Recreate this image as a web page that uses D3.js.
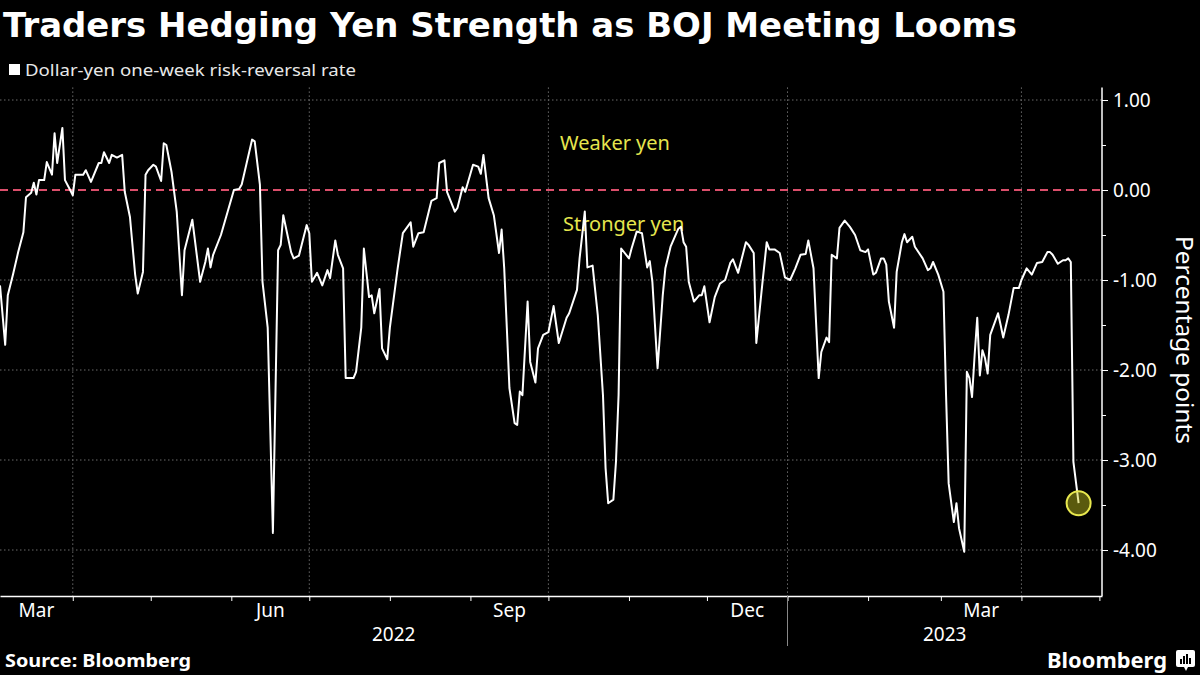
<!DOCTYPE html>
<html><head><meta charset="utf-8">
<script src="https://cdn.jsdelivr.net/npm/d3@7"></script>
<style>html,body{margin:0;padding:0;background:#000;} svg{display:block}</style>
</head><body><svg id="c" width="1200" height="675"></svg>
<script>
const title = "Traders Hedging Yen Strength as BOJ Meeting Looms";
const seriesName = "Dollar-yen one-week risk-reversal rate";
const yAxisTitle = "Percentage points";
const sourceText = "Source: Bloomberg";
const annotations = ["Weaker yen", "Stronger yen"];
const yTickValues = [1, 0, -1, -2, -3, -4];
const yMinorTicks = [0.5, -0.5, -1.5, -2.5, -3.5];
const monthLabelStarts = ["2022-03-01", "2022-06-01", "2022-09-01", "2022-12-01", "2023-03-01"];
const yearLabels = ["2022", "2023"];

const dates = [
"2022-03-04","2022-03-06","2022-03-07","2022-03-09","2022-03-11","2022-03-13","2022-03-14","2022-03-16","2022-03-17","2022-03-18",
"2022-03-19","2022-03-21","2022-03-22","2022-03-24","2022-03-25","2022-03-26","2022-03-28","2022-03-29","2022-03-31","2022-04-01",
"2022-04-02","2022-04-05","2022-04-06","2022-04-08","2022-04-11","2022-04-12","2022-04-13","2022-04-15","2022-04-16","2022-04-18",
"2022-04-20","2022-04-21","2022-04-23","2022-04-25","2022-04-26","2022-04-28","2022-04-29","2022-04-30","2022-05-02","2022-05-03",
"2022-05-05","2022-05-06","2022-05-07","2022-05-09","2022-05-11","2022-05-13","2022-05-14","2022-05-17","2022-05-20","2022-05-22",
"2022-05-23","2022-05-24","2022-05-25","2022-05-28","2022-05-30","2022-06-02","2022-06-04","2022-06-05","2022-06-09","2022-06-10",
"2022-06-12","2022-06-13","2022-06-15","2022-06-17","2022-06-19","2022-06-20","2022-06-21","2022-06-24","2022-06-25","2022-06-27",
"2022-06-30","2022-07-01","2022-07-02","2022-07-04","2022-07-06","2022-07-08","2022-07-09","2022-07-11","2022-07-12","2022-07-14",
"2022-07-15","2022-07-18","2022-07-19","2022-07-21","2022-07-22","2022-07-24","2022-07-25","2022-07-26","2022-07-28","2022-07-29",
"2022-07-31","2022-08-01","2022-08-04","2022-08-06","2022-08-09","2022-08-10","2022-08-12","2022-08-14","2022-08-17","2022-08-19",
"2022-08-20","2022-08-22","2022-08-23","2022-08-26","2022-08-27","2022-08-29","2022-08-30","2022-09-02","2022-09-04","2022-09-05",
"2022-09-06","2022-09-08","2022-09-10","2022-09-12","2022-09-13","2022-09-14","2022-09-15","2022-09-16","2022-09-18","2022-09-19",
"2022-09-20","2022-09-21","2022-09-23","2022-09-24","2022-09-26","2022-09-27","2022-09-29","2022-10-01","2022-10-03","2022-10-05",
"2022-10-08","2022-10-09","2022-10-12","2022-10-13","2022-10-15","2022-10-16","2022-10-18","2022-10-20","2022-10-22","2022-10-23",
"2022-10-24","2022-10-26","2022-10-27","2022-10-28","2022-10-29","2022-11-01","2022-11-02","2022-11-04","2022-11-06","2022-11-08",
"2022-11-09","2022-11-10","2022-11-12","2022-11-14","2022-11-15","2022-11-17","2022-11-20","2022-11-21","2022-11-22","2022-11-23",
"2022-11-24","2022-11-26","2022-11-28","2022-11-29","2022-11-30","2022-12-02","2022-12-04","2022-12-06","2022-12-08","2022-12-10",
"2022-12-11","2022-12-13","2022-12-16","2022-12-17","2022-12-19","2022-12-20","2022-12-22","2022-12-24","2022-12-25","2022-12-27",
"2022-12-29","2022-12-31","2023-01-02","2023-01-04","2023-01-06","2023-01-08","2023-01-09","2023-01-11","2023-01-13","2023-01-14",
"2023-01-16","2023-01-17","2023-01-18","2023-01-20","2023-01-21","2023-01-23","2023-01-25","2023-01-27","2023-01-29","2023-01-31",
"2023-02-01","2023-02-03","2023-02-04","2023-02-06","2023-02-07","2023-02-08","2023-02-09","2023-02-11","2023-02-12","2023-02-14",
"2023-02-15","2023-02-16","2023-02-18","2023-02-19","2023-02-22","2023-02-24","2023-02-25","2023-02-26","2023-02-28","2023-03-02",
"2023-03-03","2023-03-04","2023-03-06","2023-03-07","2023-03-08","2023-03-10","2023-03-11","2023-03-12","2023-03-13","2023-03-14",
"2023-03-15","2023-03-16","2023-03-17","2023-03-18","2023-03-19","2023-03-20","2023-03-23","2023-03-24","2023-03-25","2023-03-27",
"2023-03-29","2023-03-31","2023-04-01","2023-04-03","2023-04-05","2023-04-07","2023-04-09","2023-04-11","2023-04-12","2023-04-13",
"2023-04-15","2023-04-17","2023-04-18","2023-04-19","2023-04-20","2023-04-21","2023-04-23"
];
const values = [
-1.06,-1.72,-1.17,-0.94,-0.69,-0.47,-0.08,-0.03,0.08,-0.05,
0.11,0.11,0.31,0.17,0.63,0.30,0.69,0.11,0.00,-0.06,
0.17,0.17,0.22,0.09,0.30,0.30,0.42,0.30,0.39,0.36,
0.39,-0.02,-0.30,-0.94,-1.15,-0.91,0.17,0.22,0.28,0.26,
0.10,0.52,0.50,0.20,-0.24,-1.17,-0.67,-0.33,-1.02,-0.80,
-0.65,-0.86,-0.72,-0.50,-0.30,0.00,0.01,0.06,0.56,0.54,
0.06,-1.02,-1.53,-3.81,-0.67,-0.61,-0.28,-0.69,-0.76,-0.73,
-0.39,-0.48,-1.02,-0.92,-1.06,-0.89,-0.98,-0.56,-0.72,-0.87,
-2.09,-2.09,-2.02,-1.53,-0.65,-1.19,-1.17,-1.37,-1.10,-1.76,
-1.88,-1.53,-0.87,-0.48,-0.36,-0.63,-0.48,-0.47,-0.12,-0.09,
0.30,0.33,-0.02,-0.24,-0.20,0.03,-0.02,0.28,0.26,0.18,
0.39,-0.09,-0.28,-0.70,-0.44,-0.87,-1.53,-2.20,-2.59,-2.61,
-2.24,-2.28,-1.24,-1.91,-2.14,-1.76,-1.61,-1.58,-1.29,-1.70,
-1.42,-1.37,-1.11,-0.76,-0.24,-0.86,-0.84,-1.39,-2.28,-3.09,
-3.48,-3.44,-3.02,-2.28,-0.65,-0.76,-0.65,-0.46,-0.48,-0.86,
-0.79,-1.02,-1.98,-1.17,-0.87,-0.63,-0.43,-0.41,-0.58,-0.63,
-1.02,-1.24,-1.17,-1.17,-1.07,-1.47,-1.19,-1.04,-1.00,-0.81,
-0.77,-0.92,-0.58,-0.61,-0.70,-1.70,-1.13,-0.58,-0.66,-0.66,
-0.70,-0.97,-1.00,-0.87,-0.72,-0.71,-0.56,-0.87,-2.09,-1.80,
-1.64,-1.69,-0.72,-0.76,-0.42,-0.34,-0.41,-0.50,-0.67,-0.69,
-0.66,-0.94,-0.92,-0.76,-0.76,-0.83,-1.24,-1.53,-0.91,-0.58,
-0.49,-0.58,-0.52,-0.63,-0.76,-0.89,-0.87,-0.80,-0.94,-1.13,
-2.28,-3.26,-3.69,-3.48,-3.76,-4.02,-2.02,-2.09,-2.30,-1.83,
-1.42,-2.06,-1.78,-1.87,-2.04,-1.61,-1.37,-1.50,-1.64,-1.39,
-1.09,-1.09,-1.00,-0.87,-0.94,-0.81,-0.80,-0.69,-0.69,-0.72,
-0.82,-0.78,-0.78,-0.76,-0.80,-3.02,-3.48
];

const parse = d3.utcParse("%Y-%m-%d");
const data = dates.map((d, i) => ({ date: parse(d), value: values[i] }));
const domainStart = parse("2022-03-04"), domainEnd = parse("2023-05-02");

const svg = d3.select("#c");
const font = "'Noto Sans', 'DejaVu Sans', sans-serif";
svg.append("rect").attr("width", 1200).attr("height", 675).attr("fill", "#000");

const plotL = 0, plotR = 1102, plotB = 596;
const x = d3.scaleUtc().domain([domainStart, domainEnd]).range([plotL, plotR]);
const y = d3.scaleLinear().domain([-4.5, 1]).range([595, 100]);
const plotT = y(1.14);

// Title & legend
svg.append("text").attr("x", 3).attr("y", 37).text(title)
  .attr("font-family", "'DejaVu Sans', sans-serif").attr("font-weight", "bold")
  .attr("font-size", 33).attr("fill", "#fff")
  .attr("textLength", 1014).attr("lengthAdjust", "spacingAndGlyphs");
svg.append("rect").attr("x", 9).attr("y", 64).attr("width", 11).attr("height", 11).attr("fill", "#fff");
svg.append("text").attr("x", 25).attr("y", 76).text(seriesName)
  .attr("font-family", font).attr("font-size", 17).attr("fill", "#e8e8e8")
  .attr("textLength", 331).attr("lengthAdjust", "spacingAndGlyphs");

// Gridlines
const grid = svg.append("g");
grid.selectAll("line.h").data(yTickValues.filter(v => v !== 0)).join("line")
  .attr("x1", plotL).attr("x2", plotR).attr("y1", d => y(d)).attr("y2", d => y(d))
  .attr("stroke", "#6a6a6a").attr("stroke-width", 1).attr("stroke-dasharray", "1.5,2.5");
grid.selectAll("line.v").data(d3.utcMonth.every(3).range(domainStart, domainEnd)).join("line")
  .attr("x1", d => x(d)).attr("x2", d => x(d)).attr("y1", plotT).attr("y2", plotB)
  .attr("stroke", "#6a6a6a").attr("stroke-width", 1).attr("stroke-dasharray", "1.5,2.5");

// Zero line
svg.append("line").attr("x1", plotL).attr("x2", plotR).attr("y1", y(0)).attr("y2", y(0))
  .attr("stroke", "#dc4f6c").attr("stroke-width", 2).attr("stroke-dasharray", "8,5");

// Annotations
svg.append("text").attr("x", 560).attr("y", 150).text(annotations[0])
  .attr("font-family", font).attr("font-size", 20).attr("fill", "#e6e64e");
svg.append("text").attr("x", 563).attr("y", 231).text(annotations[1])
  .attr("font-family", font).attr("font-size", 20).attr("fill", "#e6e64e");

// Right axis
const yAxis = svg.append("g").attr("transform", `translate(${plotR},0)`)
  .call(d3.axisRight(y).tickValues(yTickValues).tickSize(6).tickPadding(5)
    .tickFormat(d => d.toFixed(2)));
yAxis.select(".domain").remove();
yAxis.selectAll("line").attr("stroke", "#fff");
yAxis.selectAll("text").attr("fill", "#fff").attr("font-family", font).attr("font-size", 19);
const yMinor = svg.append("g").attr("transform", `translate(${plotR},0)`)
  .call(d3.axisRight(y).tickValues(yMinorTicks).tickSize(4).tickFormat(""));
yMinor.select(".domain").remove();
yMinor.selectAll("line").attr("stroke", "#fff");
svg.append("line").attr("x1", plotR).attr("x2", plotR).attr("y1", plotT).attr("y2", plotB)
  .attr("stroke", "#fff").attr("stroke-width", 1.5);

svg.append("text").attr("transform", "translate(1176,340) rotate(90)")
  .attr("text-anchor", "middle").text(yAxisTitle)
  .attr("font-family", font).attr("font-size", 23).attr("fill", "#fff")
  .attr("textLength", 208).attr("lengthAdjust", "spacingAndGlyphs");

// Bottom axis
const xAxis = svg.append("g").attr("transform", `translate(0,${plotB})`)
  .call(d3.axisBottom(x).ticks(d3.utcMonth.every(1)).tickSize(5).tickSizeOuter(0).tickFormat(""));
xAxis.select(".domain").attr("stroke", "#fff").attr("stroke-width", 1.5);
xAxis.selectAll("line").attr("stroke", "#fff");

const monthFmt = d3.utcFormat("%b");
svg.append("g").selectAll("text").data(monthLabelStarts.map(parse)).join("text")
  .attr("x", d => {
    const a = d < domainStart ? domainStart : d;
    const e = d3.utcMonth.offset(d, 1);
    const b = e > domainEnd ? domainEnd : e;
    return (x(a) + x(b)) / 2;
  })
  .attr("y", 617).attr("text-anchor", "middle").text(d => monthFmt(d))
  .attr("font-family", font).attr("font-size", 19).attr("fill", "#fff");

svg.append("g").selectAll("text").data(yearLabels).join("text")
  .attr("x", d => {
    const s = parse(d + "-01-01"), e = parse((+d + 1) + "-01-01");
    const a = s < domainStart ? domainStart : s, b = e > domainEnd ? domainEnd : e;
    return (x(a) + x(b)) / 2;
  })
  .attr("y", 641).attr("text-anchor", "middle").text(d => d)
  .attr("font-family", font).attr("font-size", 19).attr("fill", "#fff");
const yearSep = parse(yearLabels[1] + "-01-01");
svg.append("line").attr("x1", x(yearSep)).attr("x2", x(yearSep)).attr("y1", plotB).attr("y2", 646)
  .attr("stroke", "#888").attr("stroke-width", 1);

// Line
svg.append("path").datum(data)
  .attr("d", d3.line().x(d => x(d.date)).y(d => y(d.value)))
  .attr("fill", "none").attr("stroke", "#fff").attr("stroke-width", 2)
  .attr("stroke-linejoin", "round");

// End marker
const last = data[data.length - 1];
svg.append("circle").attr("cx", x(last.date)).attr("cy", y(last.value)).attr("r", 12)
  .attr("fill", "rgba(200,200,30,0.45)").attr("stroke", "#e8e84e").attr("stroke-width", 2);

// Footer
svg.append("text").attr("x", 5).attr("y", 667).text(sourceText)
  .attr("font-family", font).attr("font-weight", "bold").attr("font-size", 17).attr("fill", "#fff")
  .attr("textLength", 186).attr("lengthAdjust", "spacingAndGlyphs");
svg.append("text").attr("x", 1047).attr("y", 668).text("Bloomberg")
  .attr("font-family", font).attr("font-weight", "bold").attr("font-size", 22).attr("fill", "#fff")
  .attr("textLength", 120).attr("lengthAdjust", "spacingAndGlyphs");
const logo = svg.append("g").attr("transform", "translate(1176,650)");
logo.append("rect").attr("width", 19).attr("height", 17).attr("rx", 2).attr("fill", "#fff");
logo.append("path").attr("d", "M8,17 L10,21 L12,17 Z").attr("fill", "#fff");
[[4,9],[7,6],[10,4],[13,8]].forEach(([bx, by]) =>
  logo.append("rect").attr("x", bx).attr("y", by).attr("width", 2).attr("height", 14 - by).attr("fill", "#000"));
</script>
</body></html>
